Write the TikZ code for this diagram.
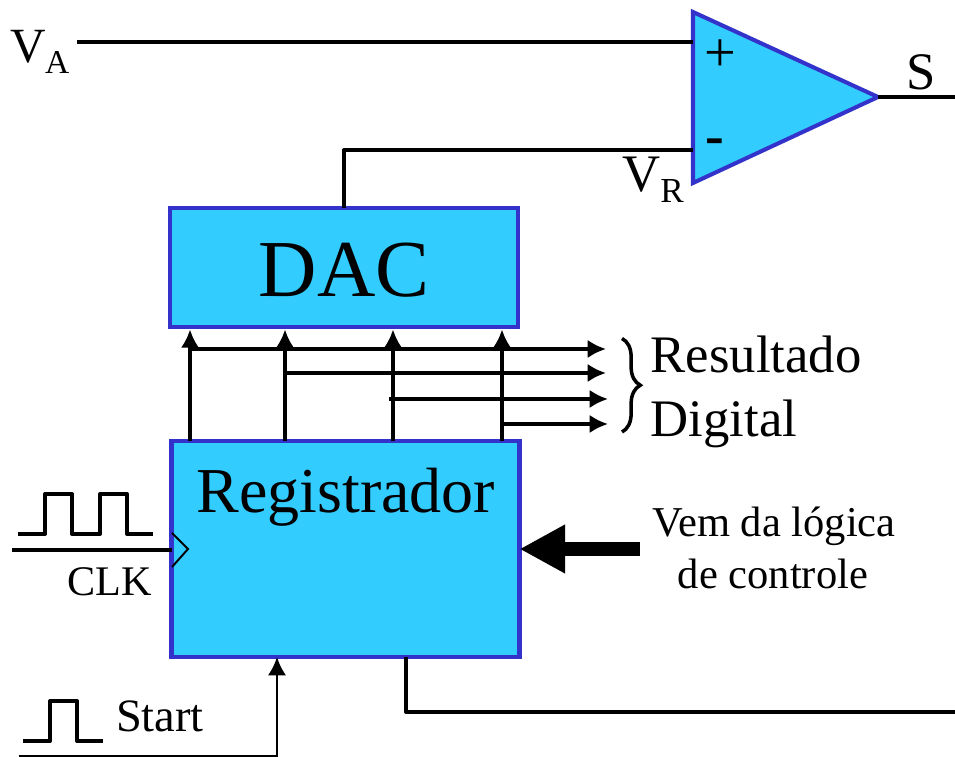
\documentclass[tikz,border=0pt]{standalone}
\usepackage{fontspec}
\setmainfont{Liberation Serif}
\usetikzlibrary{arrows.meta,decorations.pathreplacing}
\definecolor{blockfill}{HTML}{33CCFF}
\definecolor{blockline}{HTML}{3333CC}
\tikzset{>={Latex[length=5.2pt,width=5.2pt]}}
\tikzset{
	block/.style={draw=blockline, fill=blockfill, line width=1.15pt, inner sep=0pt, outer sep=0pt},
	wire/.style={line width=1.15pt, line join=round},
	bus/.style={line width=.95pt},
	txt/.style={anchor=base, inner sep=0pt},
}
\newcommand{\fs}[1]{\fontsize{#1}{#1}\selectfont}
\newcommand{\subtxt}[1]{\raisebox{-1.05mm}{\fs{10}#1}}
\begin{document}
\begin{tikzpicture}[y=-1cm]
	\useasboundingbox (0,0) rectangle (9.55,7.57);
%	\draw[help lines] (0,0) grid (9.55,7.57);
	% blocks
	\node [block, minimum width=3.48cm, minimum height=1.19cm] (dac) at (3.44,2.675) {};
	\node [block, minimum width=3.48cm, minimum height=2.16cm] (reg) at (3.455,5.49) {};
	\node [txt, font=\fs{23}] (dactxt) at (3.44,2.965) {DAC};
	\node [txt, font=\fs{18.2}] (regtxt) at (3.46,5.125) {Registrador};
	% comparator
	\coordinate (cmptop) at (6.93,.12);
	\coordinate (cmpbot) at (6.93,1.83);
	\coordinate (cmpout) at (8.78,.97);
	\coordinate (cmpplus) at (6.93,.42);
	\coordinate (cmpminus) at (6.93,1.50);
	\draw [block, line join=miter] (cmptop) -- (cmpout) -- (cmpbot) -- cycle;
	\node [txt, font=\fs{16}] (plus) at (7.20,.72) {+};
	\node [txt, font=\bfseries\fs{16}] (minus) at (7.15,1.55) {-};
	% comparator wires
	\coordinate (vaend) at (.77,.42);
	\coordinate (send) at (9.55,.97);
	\coordinate (dacup) at (3.44,1.50);
	\draw [wire] (vaend) -- (cmpplus);
	\draw [wire] (dac.north) -- (dacup) -- (cmpminus);
	\draw [wire] (cmpout) -- (send);
	\node [txt, font=\fs{14}] (va) at (.40,.63) {V\kern-.4pt\subtxt{\fs{9.5}A}};
	\node [txt, font=\fs{15}] (vr) at (6.53,1.92) {V\subtxt{R}};
	\node [txt, font=\fs{15}] (s) at (9.21,.90) {S};
	% bits up to the DAC
	\coordinate (bita) at (1.90,3.49);
	\coordinate (bitb) at (2.85,3.73);
	\coordinate (bitc) at (3.93,3.99);
	\coordinate (bitd) at (5.02,4.24);
	\foreach \b in {bita,bitb,bitc,bitd}
		\draw [->, bus, shorten >=.7pt] (reg.north -| \b) -- (dac.south -| \b);
	% bits out to the right
	\coordinate (outa) at (6.06,3.49);
	\coordinate (outb) at (6.06,3.73);
	\coordinate (outc) at (6.08,3.99);
	\coordinate (outd) at (6.08,4.24);
	\draw [->, bus] (bita) -- (outa);
	\draw [->, bus] ([xshift=-.6pt]bitb) -- (outb);
	\draw [->, bus] ([xshift=-1.2pt]bitc) -- (outc);
	\draw [->, bus] (bitd) -- (outd);
	\coordinate (bracetop) at (6.22,3.385);
	\coordinate (bracebot) at (6.22,4.32);
	\draw [line width=1pt, decorate, decoration={brace, amplitude=5.2pt}] (bracetop) -- (bracebot);
	\node [txt, anchor=base west, font=\fs{15}] (res) at (6.50,3.73) {Resultado};
	\node [txt, anchor=base west, font=\fs{15}] (dig) at (6.50,4.37) {Digital};
	% control
	\coordinate (ctrl) at (6.40,5.49);
	\draw [-{Triangle[length=13pt, width=13pt]}, line width=4pt] (ctrl) -- (reg.east |- ctrl);
	\node [txt, font=\fs{12.1}] (vem) at (7.74,5.37) {Vem da lógica};
	\node [txt, font=\fs{12.1}] (ctl) at (7.73,5.89) {de controle};
	% clock
	\coordinate (clkend) at (.12,5.50);
	\draw [wire] (clkend) -- (reg.west |- clkend);
	\draw [line width=.55pt] (1.72,5.33) -- (1.88,5.49) -- (1.72,5.67);
	\draw [wire] (.18,5.34) -- (.45,5.34) -- (.45,4.94) -- (.72,4.94) -- (.72,5.34) -- (1.00,5.34) -- (1.00,4.94) -- (1.27,4.94) -- (1.27,5.34) -- (1.53,5.34);
	\node [txt, font=\fs{12}] (clk) at (1.10,5.96) {CLK};
	% start
	\coordinate (stend) at (.19,7.56);
	\coordinate (stup) at (2.77,7.56);
	\draw [->, line width=.75pt] (stend) -- (stup) -- (reg.south -| stup);
	\draw [wire] (.23,7.41) -- (.50,7.41) -- (.50,7.01) -- (.77,7.01) -- (.77,7.41) -- (1.03,7.41);
	\node [txt, font=\fs{13.2}] (st) at (1.60,7.32) {Start};
	% output
	\coordinate (regdown) at (4.06,7.12);
	\coordinate (regend) at (9.55,7.12);
	\draw [wire] (reg.south -| regdown) -- (regdown) -- (regend);
\end{tikzpicture}
\end{document}
